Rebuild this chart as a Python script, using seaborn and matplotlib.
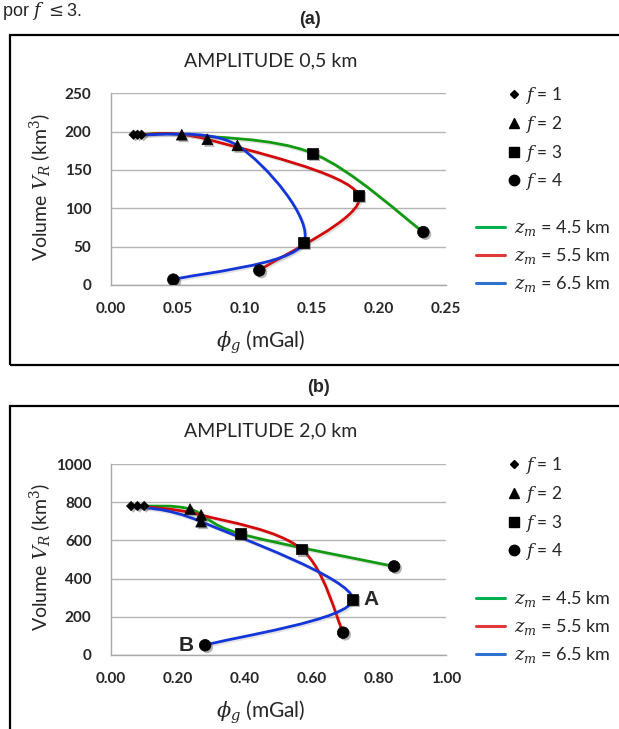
import numpy as np
import pandas as pd
import matplotlib
matplotlib.use("Agg")
import matplotlib.pyplot as plt
import seaborn as sns
from matplotlib.path import Path
from matplotlib.patches import PathPatch, Rectangle
from matplotlib.lines import Line2D
import matplotlib.patheffects as pe

# ---------------------------------------------------------------- data
depths = ["4.5", "5.5", "6.5"]
f_values = [1, 2, 3, 4]

# (a) amplitude 0,5 km
phi_a_45 = [0.0228, 0.0528, 0.1502, 0.2331]
vol_a_45 = [196, 196, 172, 69]
phi_a_55 = [0.0198, 0.0719, 0.1849, 0.1107]
vol_a_55 = [196, 190, 117, 19]
phi_a_65 = [0.0168, 0.0943, 0.1438, 0.0465]
vol_a_65 = [196, 182, 55, 7]

# (b) amplitude 2,0 km
phi_b_45 = [0.099, 0.236, 0.387, 0.845]
vol_b_45 = [780, 764, 634, 464]
phi_b_55 = [0.079, 0.269, 0.568, 0.693]
vol_b_55 = [780, 733, 555, 117]
phi_b_65 = [0.060, 0.269, 0.7215, 0.281]
vol_b_65 = [780, 698, 293, 51]

x_ticks_a = [0.00, 0.05, 0.10, 0.15, 0.20, 0.25]
y_ticks_a = [0, 50, 100, 150, 200, 250]
x_ticks_b = [0.00, 0.20, 0.40, 0.60, 0.80, 1.00]
y_ticks_b = [0, 200, 400, 600, 800, 1000]

line_colors = {"4.5": "#129a12", "5.5": "#d20a0a", "6.5": "#1436d8"}
legend_colors = {"4.5": "#00b050", "5.5": "#e0393b", "6.5": "#2f73d0"}
markers = {1: "D", 2: "^", 3: "s", 4: "o"}
marker_sizes = {1: 22, 2: 60, 3: 62, 4: 70}


def make_frame(phis, vols):
    rows = []
    for d, ph, vo in zip(depths, phis, vols):
        for f, x, y in zip(f_values, ph, vo):
            rows.append({"zm": d, "f": f, "phi": x, "vol": y})
    return pd.DataFrame(rows)


df_a = make_frame([phi_a_45, phi_a_55, phi_a_65], [vol_a_45, vol_a_55, vol_a_65])
df_b = make_frame([phi_b_45, phi_b_55, phi_b_65], [vol_b_45, vol_b_55, vol_b_65])


def smooth_path(x, y):
    """Smoothed (Catmull-Rom style Bezier) path through the given points."""
    pts = np.column_stack([x, y]).astype(float)
    n = len(pts)
    verts = [pts[0]]
    codes = [Path.MOVETO]
    for i in range(n - 1):
        p0 = pts[max(i - 1, 0)]
        p1 = pts[i]
        p2 = pts[i + 1]
        p3 = pts[min(i + 2, n - 1)]
        verts += [p1 + (p2 - p0) / 6.0, p2 - (p3 - p1) / 6.0, p2]
        codes += [Path.CURVE4] * 3
    return Path(verts, codes)


# ---------------------------------------------------------------- style
sns.set_theme(style="white")
plt.rcParams["font.family"] = ["Lato", "DejaVu Sans"]
plt.rcParams["mathtext.fontset"] = "dejavuserif"

W, H = 619, 729
fig = plt.figure(figsize=(W / 100, H / 100), dpi=100)


def fx(px):
    return px / W


def fy(py):
    return 1 - py / H


shadow = [pe.SimplePatchShadow(offset=(1.5, -1.5), shadow_rgbFace="0.35", alpha=0.45), pe.Normal()]
line_shadow = [pe.SimpleLineShadow(offset=(1.2, -1.2), shadow_color="0.5", alpha=0.22), pe.Normal()]


def draw_panel(top_px, bottom_px, df, xlim, ylim, xticks, yticks, xfmt, title, title_y):
    ax = fig.add_axes([fx(111), fy(bottom_px), fx(446) - fx(111), fy(top_px) - fy(bottom_px)])
    for d in depths:
        sub = df[df.zm == d]
        patch = PathPatch(smooth_path(sub.phi.values, sub.vol.values), fill=False,
                          edgecolor=line_colors[d], lw=2.0, zorder=3, capstyle="round")
        patch.set_path_effects(line_shadow)
        ax.add_patch(patch)
    for f in f_values:
        sub = df[df.f == f]
        sns.scatterplot(data=sub, x="phi", y="vol", marker=markers[f], s=marker_sizes[f],
                        color="black", edgecolor="black", linewidth=0.5, ax=ax,
                        legend=False, zorder=4)
    for coll in ax.collections:
        coll.set_path_effects(shadow)
    ax.set_xlim(*xlim)
    ax.set_ylim(*ylim)
    ax.set_xticks(xticks)
    ax.set_yticks(yticks)
    ax.set_xticklabels([xfmt.format(v) for v in xticks], fontweight="bold", fontsize=11)
    ax.set_yticklabels([str(v) for v in yticks], fontweight="bold", fontsize=11)
    ax.tick_params(axis="both", length=0)
    ax.tick_params(axis="y", pad=14)
    ax.tick_params(axis="x", pad=12)
    ax.yaxis.grid(True, color="#b4b4b4", lw=1.0)
    ax.xaxis.grid(False)
    ax.set_axisbelow(True)
    for s in ["top", "right"]:
        ax.spines[s].set_visible(False)
    for s in ["left", "bottom"]:
        ax.spines[s].set_color("#a8a8a8")
        ax.spines[s].set_linewidth(1.0)
    ax.set_xlabel("")
    ax.set_ylabel("")
    fig.text(fx(271), fy(title_y), title, ha="center", va="center", fontsize=14)
    mid = (top_px + bottom_px) / 2 - 2
    fig.text(fx(41), fy(mid), r"Volume $V_R$ (km$^3$)", rotation=90, ha="center", va="center",
             fontsize=14)
    fig.text(fx(261), fy(bottom_px + 57), r"$\phi_g$ (mGal)", ha="center", va="center", fontsize=15)
    return ax


def draw_legend(marker_top, line_top):
    mh = [Line2D([], [], ls="none", marker=markers[f], color="black",
                 markersize={1: 4.5, 2: 7, 3: 7, 4: 7.5}[f]) for f in f_values]
    ml = [rf"$f$ = {f}" for f in f_values]
    fig.legend(mh, ml, loc="upper left", bbox_to_anchor=(fx(505), fy(marker_top)),
               frameon=False, borderpad=0, borderaxespad=0, handlelength=1.0,
               handletextpad=0.15, labelspacing=0.45, fontsize=12.5)
    lh = [Line2D([], [], color=legend_colors[d], lw=2.2) for d in depths]
    ll = [rf"$z_m$ = {d} km" for d in depths]
    fig.legend(lh, ll, loc="upper left", bbox_to_anchor=(fx(476), fy(line_top)),
               frameon=False, borderpad=0, borderaxespad=0, handlelength=1.6,
               handletextpad=0.5, labelspacing=0.45, fontsize=13)


ax_a = draw_panel(93.3, 285, df_a, (0, 0.25), (0, 250), x_ticks_a, y_ticks_a, "{:.2f}",
                  "AMPLITUDE 0,5 km", 61)
ax_b = draw_panel(464, 655, df_b, (0, 1.0), (0, 1000), x_ticks_b, y_ticks_b, "{:.2f}",
                  "AMPLITUDE 2,0 km", 431)

draw_legend(85, 218)
draw_legend(455, 589)

# point labels in panel (b)
ax_b.text(0.776, 293, "A", ha="center", va="center", fontsize=15, fontweight="bold",
          family="Liberation Sans")
ax_b.text(0.224, 52, "B", ha="center", va="center", fontsize=15, fontweight="bold",
          family="Liberation Sans")

# panel frames
fig.patches.append(Rectangle((fx(10), fy(365)), 1.2, fy(35) - fy(365), transform=fig.transFigure,
                             fill=False, edgecolor="black", lw=1.6, zorder=0))
fig.patches.append(Rectangle((fx(10), -0.2), 1.2, fy(406) + 0.2, transform=fig.transFigure,
                             fill=False, edgecolor="black", lw=1.6, zorder=0))

fig.text(fx(310), fy(20), "(a)", ha="center", va="center", fontsize=13, fontweight="bold",
         family="Liberation Sans")
fig.text(fx(318), fy(388), "(b)", ha="center", va="center", fontsize=13, fontweight="bold",
         family="Liberation Sans")
fig.text(fx(2), fy(11), r"por $f$ $\leq$3.", ha="left", va="center", fontsize=13,
         family="Liberation Sans")

fig.savefig("out.png", dpi=100)
